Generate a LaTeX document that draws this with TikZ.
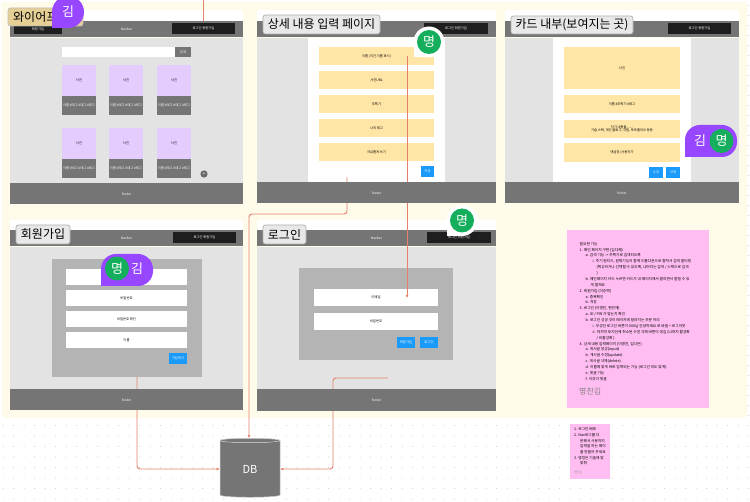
\documentclass[tikz,border=0pt]{standalone}
\usepackage{fontspec}
\setmainfont{Noto Sans CJK KR}
\usetikzlibrary{arrows.meta,shapes.geometric}

\definecolor{creambg}{HTML}{FFFBEB}
\definecolor{griddot}{HTML}{C9C9C9}
\definecolor{navgray}{HTML}{757575}
\definecolor{bodygray}{HTML}{E3E3E3}
\definecolor{panelgray}{HTML}{B4B4B4}
\definecolor{btnblack}{HTML}{1E1E1E}
\definecolor{cardyellow}{HTML}{FFE6A6}
\definecolor{photopurple}{HTML}{E5CCFF}
\definecolor{btnblue}{HTML}{1A9BFC}
\definecolor{badgepurple}{HTML}{9747FF}
\definecolor{badgegreen}{HTML}{14AE5C}
\definecolor{notepink}{HTML}{FFBDF1}
\definecolor{wirered}{HTML}{E5806B}

\tikzset{
    uitext/.style={font=\fontsize{3.3}{3.9}\selectfont, text=black, align=center, inner sep=0pt},
    uiwhite/.style={uitext, text=white},
    framelabel/.style={draw=black!30, line width=0.8pt, fill=black!9, rounded corners=2.5pt, font=\fontsize{12}{12}\selectfont, text=black, inner sep=0pt, anchor=center},
    wire/.style={wirered, line width=0.9pt, rounded corners=3pt, -{Latex[length=3pt,width=3pt]}},
    badgetext/.style={text=white, font=\fontsize{13}{13}\selectfont, inner sep=0pt},
}

% x0 y0 x1 y1 box with its text in the middle
\newcommand{\uibox}[8][uitext]{%
    \fill[#7] (#3,#4) rectangle (#5,#6) node[midway,#1] (#2) {#8};}

\begin{document}
\begin{tikzpicture}[x=1pt, y=-1pt]
\useasboundingbox (0,0) rectangle (750,502);
\fill[white] (0,0) rectangle (750,502);

% --- Dotted canvas ---
\foreach \x in {0,...,71}
    \foreach \y in {0,...,7}
        \fill[griddot] ({3+10.5*\x},{425.5+10.5*\y}) circle (0.5);
\foreach \y in {0,...,41}
    \fill[griddot] (748.5,{5.5+10*\y}) circle (0.5);

% --- Cream section ---
\fill[creambg, rounded corners=3pt] (1.5,2) rectangle (747,418);

% --- Page frames: strip, navbar, body ---
\foreach \nm/\xa/\xb/\ya/\yb/\yc/\yd/\ba/\bb in {
    main/10/243/10/21/37/183/172/235,
    write/257/496/10/21/37/182/424/488,
    card/505/739/10/21/37/182/668/731,
    join/10/243/220/230/246/389/173/236,
    login/257/496/220/230/246/389/427/491}
{
    \fill[white] (\xa,\ya) rectangle (\xb,\yb);
    \uibox[uiwhite]{\nm nav}{\xa}{\yb}{\xb}{\yc}{navgray}{}
    \fill[bodygray] (\xa,\yc+0.6) rectangle (\xb,\yd);
    \uibox[uiwhite]{\nm btn}{\ba}{\yb+2.5}{\bb}{\yb+13}{btnblack}{로그인 회원가입}
}
\foreach \nm in {main,join,login}
    \node[uiwhite] (\nm navtext) at (\nm nav) {Navbar};

% --- Main page ---
\uibox[uiwhite]{mainleft}{14}{24}{62}{34}{btnblack}{회원가입}
\fill[white] (62,47) rectangle (175,57);
\uibox[uiwhite]{mainsearch}{175}{47}{191}{57}{navgray}{검색}
\foreach \x in {62,109,157}
    \foreach \y in {65,128}
    {
        \uibox{photo\x\y}{\x}{\y}{\x+34}{\y+31}{photopurple}{사진}
        \uibox[uiwhite]{tag\x\y}{\x}{\y+31.5}{\x+34}{\y+50}{navgray}{이름 \#태그 \#태그 \#태그}
    }
\fill[navgray!90!black] (204,174) circle (3.6);
\node[uiwhite, font=\fontsize{5}{5}\selectfont] (plus) at (204,174) {+};

% --- Detail input page ---
\fill[white] (308,37.6) rectangle (445,182);
\foreach \y/\txt in {47/이름 (이건 이름 표시),71/사진URL,95/주특기,119/나의 태그,143/자유롭게 쓰기}
{
    \uibox{input\y}{319}{\y}{434}{\y+18}{cardyellow}{\txt}
}
\uibox[uiwhite]{savebtn}{421}{166}{434}{177}{btnblue}{저장}

% --- Card detail page ---
\fill[white] (553,37.6) rectangle (691,182);
\uibox{cardphoto}{564}{47}{680}{89}{cardyellow}{사진}
\uibox{cardname}{564}{95}{680}{113}{cardyellow}{이름 \#주특기 \#태그}
\uibox{cardtext}{564}{120}{680}{138}{cardyellow}{자기 내용들.......\\기술 스택, 개인 블로그, 깃헙, 포르폴리오 등등}
\uibox{cardreply}{564}{143}{680}{162}{cardyellow}{댓글창 (사용자가}
\uibox[uiwhite]{editbtn}{649}{167}{663}{178}{btnblue}{수정}
\uibox[uiwhite]{delbtn}{666}{167}{680}{178}{btnblue}{삭제}

% --- Sign up page ---
\fill[panelgray] (52,259) rectangle (202,377);
\foreach \y/\txt in {269/{},290/비밀번호,311/비밀번호 확인,332/이름}
{
    \uibox{join\y}{66}{\y}{187}{\y+16}{white}{\txt}
}
\uibox[uiwhite]{joinbtn}{169}{353}{187}{364}{btnblue}{가입하기}

% --- Login page ---
\fill[panelgray] (299,268) rectangle (453,360);
\uibox{loginmail}{314}{289}{438}{306}{white}{이메일}
\uibox{loginpw}{314}{313}{438}{330}{white}{비밀번호}
\uibox[uiwhite]{tojoin}{397}{337}{415}{348}{btnblue}{회원가입}
\uibox[uiwhite]{tologin}{420}{337}{438}{348}{btnblue}{로그인}

% --- Notes ---
\fill[notepink] (567,230) rectangle (709,408);
\node[anchor=north west, inner sep=0pt, align=left, text=black, font=\fontsize{3.7}{5.87}\selectfont] (notes) at (579.5,242) {%
필요한 기능\\
1. 메인 페이지 구현 (김다해)\\
\hspace*{6pt}a. 검색 기능 -> 주특기로 검색되도록\\
\hspace*{13pt}i. 주기 원티드, 원제기능의 함께 드롭다운으로 합쳐서 검색 필터링\\
\hspace*{17pt}(택1)하거나 선택할 수 있도록, 나머지는 검색 / 스택으로 검색\\
\hspace*{17pt})\\
\hspace*{6pt}b. 메인페이지 카드 누르면 카드가 내 페이지에서 팔리면서 팔릴 수 있\\
\hspace*{11pt}게 할께요\\
2. 회원가입 (이승택)\\
\hspace*{6pt}a. 중복확인\\
\hspace*{6pt}b. 저장\\
3. 로그인 (이병진, 현민재)\\
\hspace*{6pt}a. ID / PW 가 맞는지 확인\\
\hspace*{6pt}b. 로그인 성공 것이 페이지에 달라지는 부분 처리\\
\hspace*{13pt}i. 무상단 로그인 버튼이 000님 안녕하세요 로 바뀜 + 로그아웃\\
\hspace*{13pt}ii. 마지막 포지션에 취소된 수정 삭제 버튼이 생김 (나머지 활성화\\
\hspace*{17pt}/ 비활성화 )\\
4. 상세 내용 입력페이지 (이병진, 김다은)\\
\hspace*{6pt}a. 게시글 생성(input)\\
\hspace*{6pt}b. 게시글 수정(update)\\
\hspace*{6pt}c. 게시글 삭제(delete)\\
\hspace*{6pt}d. 이름에 맞게 바로 입력되는 기능 (로그인 되도 맞게)\\
\hspace*{6pt}e. 댓글 기능\\
\hspace*{6pt}f. 이것이 댓글};
\node[anchor=west, inner sep=0pt, text=black!50, font=\fontsize{8}{8}\selectfont] (signers) at (579,391) {명찬김};

\fill[notepink] (570,424) rectangle (610,479);
\node[anchor=north west, inner sep=0pt, align=left, text=black, font=\fontsize{3.7}{5.7}\selectfont] (smallnote) at (574,427.5) {%
1. 로그인 배포\\
2. Nav바그룹 더\\
\hspace*{6pt}분해서 사용까지\\
\hspace*{6pt}입력을 하는 페이\\
\hspace*{6pt}를 만들어 주세요\\
3. 명칭은 기술에 맞\\
\hspace*{6pt}맞춰};
\node[anchor=west, inner sep=0pt, text=black!40, font=\fontsize{3}{3}\selectfont] (smallsign) at (574,472) {명찬김};

% --- Database ---
\node[cylinder, shape border rotate=90, aspect=0.3, minimum width=60pt, minimum height=59pt, inner sep=0pt, cylinder uses custom fill, cylinder body fill=navgray, cylinder end fill=navgray, draw=black!20, line width=0.5pt, text=white, font=\fontsize{11}{11}\selectfont] (db) at (250,469) {\raisebox{-3pt}{DB}};

% --- Connectors ---
\coordinate (navin) at (203,0);
\coordinate (navend) at (203,21);
\coordinate (writeout) at (347,177);
\coordinate (writebend) at (249,214);
\coordinate (fieldout) at (407,56);
\coordinate (mailin) at (407,298);
\coordinate (joinout) at (137,377);
\coordinate (loginout) at (388,378);
\draw[wirered, line width=0.9pt] (navin) -- (navend);
\draw[wire] (writeout) |- (writebend) -- (writebend |- db.top);
\draw[wire] (fieldout) -- (mailin);
\draw[wire] (joinout) |- (db.west);
\draw[wire] (loginout) -| (333,440) |- (db.east);

% --- Footers go over the connectors ---
\foreach \nm/\xa/\xb/\yd/\ye in {main/10/243/183/204,write/257/496/182/203,card/505/739/182/203,join/10/243/389/410,login/257/496/389/411}
{
    \uibox[uiwhite]{\nm foot}{\xa}{\yd+0.4}{\xb}{\ye}{navgray}{footer}
}

% --- Page labels ---
\node[framelabel, fill=cardyellow!90!black, draw=black!25, minimum width=75pt, minimum height=18pt] (labelmain) at (45.5,17) {};
\node[anchor=west, font=\fontsize{12}{12}\selectfont, text=black, inner sep=0pt] (labelmaintext) at (13,17) {와이어프};
\node[framelabel, minimum width=117pt, minimum height=19pt] (labelwrite) at (321.5,24.5) {상세 내용 입력 페이지};
\node[framelabel, minimum width=122pt, minimum height=18pt] (labelcard) at (572,25) {카드 내부(보여지는 곳)};
\node[framelabel, minimum width=54pt, minimum height=19pt] (labeljoin) at (43,234.5) {회원가입};
\node[framelabel, minimum width=43pt, minimum height=19pt] (labellogin) at (284.5,234.5) {로그인};

% --- Cursors ---
% kim, top left
\fill[badgepurple] (68,12) circle (16);
\fill[badgepurple] (52,12) rectangle (68,28);
\node[badgetext] (kimone) at (68,12) {김};

% myeong, detail page
\fill[white] (429,42) circle (15.5);
\fill[white] (413.5,42) rectangle (429,57.5);
\fill[badgegreen] (429,42) circle (12);
\node[badgetext] (myeongone) at (429,42) {명};

% myeong, login page
\fill[white] (462,220.5) circle (15.5);
\fill[white] (446.5,220.5) rectangle (462,236);
\fill[badgegreen] (462,220.5) circle (12);
\node[badgetext] (myeongtwo) at (462,220.5) {명};

% both, card page
\fill[badgepurple, rounded corners=15pt] (685,125) rectangle (737,157);
\fill[badgepurple] (685,141) rectangle (701,157);
\fill[badgegreen] (721.5,141) circle (12);
\node[badgetext] (kimtwo) at (700,141) {김};
\node[badgetext] (myeongthree) at (721.5,141) {명};

% both, sign up page
\fill[badgepurple, rounded corners=15pt] (101,254) rectangle (153,286);
\fill[badgepurple] (101,270) rectangle (117,286);
\fill[badgegreen] (117,268.5) circle (12);
\node[badgetext] (myeongfour) at (117,268.5) {명};
\node[badgetext] (kimthree) at (137,269) {김};
\end{tikzpicture}
\end{document}
